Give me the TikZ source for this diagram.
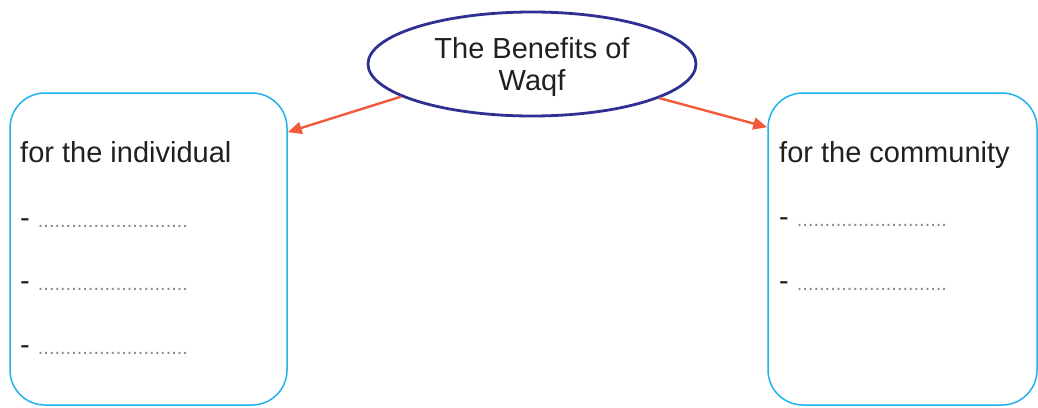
\documentclass[tikz,border=0pt]{standalone}
\usepackage{fontspec}
\setmainfont{Liberation Sans}
\usetikzlibrary{shapes.geometric,arrows.meta}
\definecolor{txt}{HTML}{231F20}
\definecolor{ellblue}{HTML}{2E3192}
\definecolor{boxcyan}{HTML}{1FB3EC}
\definecolor{arrred}{HTML}{F15A3A}
\definecolor{dotgray}{HTML}{8A8A8A}
\newcommand\wqblank{-\ {\color{dotgray}\fontsize{20}{20}\selectfont ...........................}}
\begin{document}
\begin{tikzpicture}[x=1pt,y=-1pt,
  bigtext/.style={font=\fontsize{29}{32}\selectfont, text=txt},
  headline/.style={bigtext, anchor=base west, inner sep=0pt},
  blankline/.style={bigtext, anchor=base west, inner sep=0pt},
  panel/.style={draw=boxcyan, line width=1.5pt, rounded corners=35pt, inner sep=0pt},
  topic/.style={ellipse, draw=ellblue, line width=2.8pt, inner sep=0pt, align=center, bigtext},
  link/.style={draw=arrred, line width=2.4pt, -{Triangle[length=14pt,width=12pt]}}
]
\useasboundingbox (0,0) rectangle (1038,407);

\node[topic, minimum width=328pt, minimum height=104pt] (ell) at (532,64) {\rule{0pt}{27pt}The Benefits of\\Waqf};

\node[panel, minimum width=277pt, minimum height=312pt] (left) at (148.5,249) {};
\node[panel, minimum width=269pt, minimum height=312pt] (right) at (902.5,249) {};

\node[headline] (lt) at (20,162) {for the individual};
\node[blankline] (l1) at (20,227) {\wqblank};
\node[blankline] (l2) at (20,290) {\wqblank};
\node[blankline] (l3) at (20,354) {\wqblank};

\node[headline] (rt) at (779,162) {for the community};
\node[blankline] (r1) at (779,226) {\wqblank};
\node[blankline] (r2) at (779,290) {\wqblank};

\draw[link] (ell.194) -- (left.40.8);
\draw[link] (ell.345) -- (right.138.6);
\end{tikzpicture}
\end{document}
